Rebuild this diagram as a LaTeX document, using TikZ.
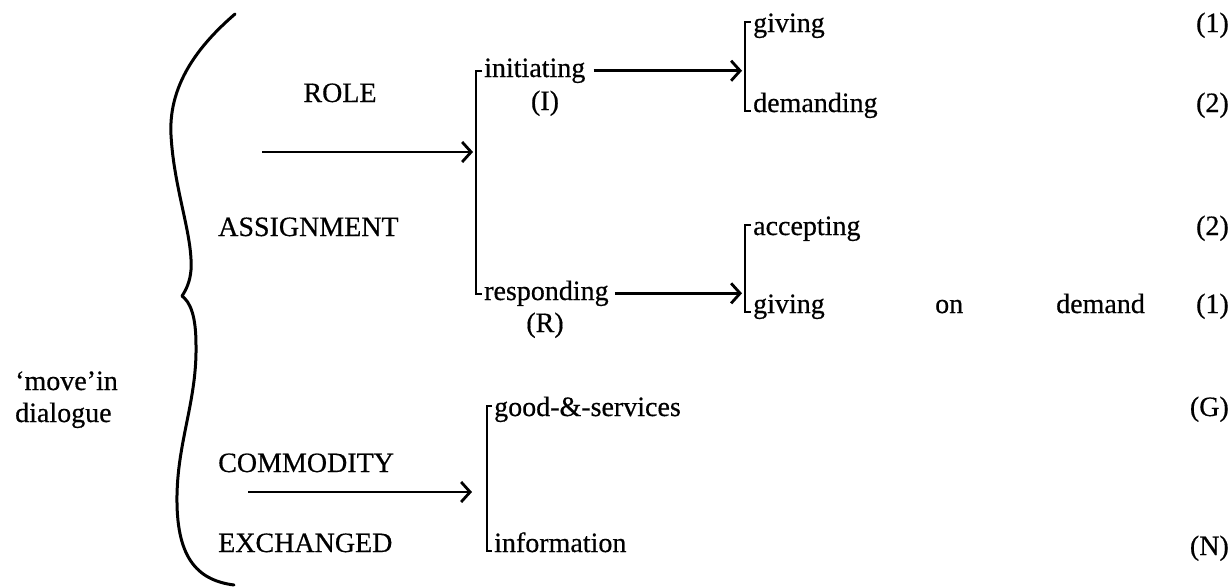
\documentclass[tikz,border=0pt]{standalone}
\usepackage{fontspec}
\setmainfont{Liberation Serif}
\newfontfamily\inkfont{Liberation Serif}[FakeBold=0.5]
\usetikzlibrary{arrows.meta}
\begin{document}
\begin{tikzpicture}[x=1pt,y=-1pt,
  lbl/.style={font=\inkfont\fontsize{28}{34}\selectfont, inner sep=0pt, anchor=base west},
  mid/.style={font=\inkfont\fontsize{28}{34}\selectfont, inner sep=0pt, anchor=base},
  num/.style={font=\inkfont\fontsize{28}{34}\selectfont, inner sep=0pt, anchor=base east},
  arr/.style={line width=2.8pt, -{Straight Barb[length=9pt,width=20pt,line width=2.8pt]}},
  brk/.style={line width=2.8pt},
  curly/.style={line width=3pt, line cap=round, line join=round}]
\useasboundingbox (0,0) rectangle (1231,587);

% left label
\node[lbl] (move) at (15,390) {‘move’in};
\node[lbl] (dial) at (15,422) {dialogue};

% big brace
\draw[curly] (235,14) .. controls (205,40) and (168,80) .. (171,135)
  .. controls (174,190) and (193,235) .. (191,270)
  .. controls (190,282) and (186,290) .. (182,296)
  .. controls (190,302) and (196,315) .. (196,345)
  .. controls (197,400) and (178,440) .. (177,495)
  .. controls (176,555) and (195,580) .. (234,585);

% system names
\node[mid] (role) at (340,102) {ROLE};
\node[lbl] (assign) at (218,236) {ASSIGNMENT};
\node[lbl] (commod) at (218,472) {COMMODITY};
\node[lbl] (exch) at (218,552) {EXCHANGED};
\coordinate (roleS) at (262,152);
\coordinate (comS) at (248,492);

% ROLE ASSIGNMENT options
\node[lbl] (init) at (484,77) {initiating};
\node[mid] (I) at (545,110) {(I)};
\node[lbl] (resp) at (484,300) {responding};
\node[mid] (R) at (545,332) {(R)};

% speech functions
\node[lbl] (giv) at (753,32) {giving};
\node[lbl] (dem) at (753,112) {demanding};
\node[lbl] (acc) at (753,235) {accepting};
\node[lbl] (giv2) at (753,313) {giving};
\node[lbl] (on) at (935,313) {on};
\node[lbl] (demand) at (1056,313) {demand};

% COMMODITY options
\node[lbl] (goods) at (494,416) {good-\&-services};
\node[lbl] (info) at (494,552) {information};

% right-hand codes
\node[num] (c1) at (1229,32) {(1)};
\node[num] (c2) at (1229,112) {(2)};
\node[num] (c3) at (1229,235) {(2)};
\node[num] (c4) at (1229,313) {(1)};
\node[num] (cG) at (1229,416) {(G)};
\node[num] (cN) at (1229,555) {(N)};

% brackets
\draw[brk] ([shift={(-2pt,6pt)}]init.base west) -- ++(-6pt,0) |- ([shift={(-2pt,6pt)}]resp.base west);
\draw[brk] ([shift={(-2pt,10pt)}]giv.base west) -- ++(-6pt,0) |- ([shift={(-2pt,1pt)}]dem.base west);
\draw[brk] ([shift={(-2pt,10pt)}]acc.base west) -- ++(-6pt,0) |- ([shift={(-2pt,1pt)}]giv2.base west);
\draw[brk] ([shift={(-2pt,10pt)}]goods.base west) -- ++(-5pt,0) |- ([shift={(-2pt,1pt)}]info.base west);

% arrows
\draw[arr] (roleS) -- ([xshift=-11pt]roleS -| init.west);
\draw[arr] (comS) -- ([xshift=-22pt]comS -| goods.west);
\draw[arr] ([xshift=8pt]init.east) -- ([xshift=-11pt]init.east -| giv.west);
\draw[arr] ([xshift=6pt]resp.east) -- ([xshift=-11pt]resp.east -| acc.west);
\end{tikzpicture}
\end{document}
